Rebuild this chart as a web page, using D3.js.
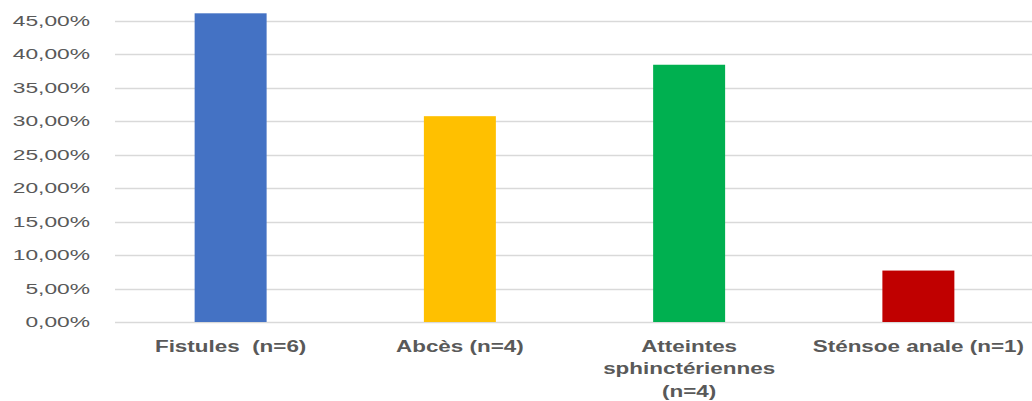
<!DOCTYPE html>
<html>
<head>
<meta charset="utf-8">
<script src="https://cdn.jsdelivr.net/npm/d3@7"></script>
<style>
  html, body { margin: 0; padding: 0; background: #fff; }
  svg { display: block; }
  svg text { white-space: pre; }
</style>
</head>
<body>
<svg id="chart" width="1032" height="401"></svg>
<script>
// Complications by type, share of patients (%)
const categories = ["Fistules  (n=6)", "Abcès (n=4)", "Atteintes sphinctériennes (n=4)", "Sténsoe anale (n=1)"];
const categoryLines = [["Fistules  (n=6)"], ["Abcès (n=4)"], ["Atteintes", "sphinctériennes", "(n=4)"], ["Sténsoe anale (n=1)"]];
const values = [46.15, 30.77, 38.46, 7.69];
const colors = ["#4472C4", "#FFC000", "#00B050", "#C00000"];
const yTicks = [0, 5, 10, 15, 20, 25, 30, 35, 40, 45];
const tickLabels = ["0,00%", "5,00%", "10,00%", "15,00%", "20,00%", "25,00%", "30,00%", "35,00%", "40,00%", "45,00%"];

const svg = d3.select("#chart");
const plotLeft = 116, plotRight = 1033, plotTop = 21, plotBottom = 322;
const textColor = "#595959";
const font = "'Liberation Sans', Arial, sans-serif";

const x = d3.scaleBand().domain(categories).range([plotLeft, plotRight]).paddingInner(0.686).paddingOuter(0.343);
const y = d3.scaleLinear().domain([0, 45]).range([plotBottom, plotTop]);

// Horizontal gridlines
svg.append("g")
  .selectAll("line")
  .data(yTicks)
  .join("line")
  .attr("x1", plotLeft - 1)
  .attr("x2", 1032)
  .attr("y1", d => Math.round(y(d)) + 0.5)
  .attr("y2", d => Math.round(y(d)) + 0.5)
  .attr("stroke", "#d9d9d9")
  .attr("stroke-width", 1.5);

// Y-axis tick labels (horizontally widened glyphs)
const tickSx = 1.52;
svg.append("g")
  .selectAll("text")
  .data(yTicks)
  .join("text")
  .attr("transform", d => `translate(90,${y(d)}) scale(${tickSx},1)`)
  .attr("text-anchor", "end")
  .attr("dominant-baseline", "central")
  .attr("font-family", font)
  .attr("font-size", 15)
  .attr("fill", textColor)
  .text((d, i) => tickLabels[i]);

// Bars
svg.append("g")
  .selectAll("rect")
  .data(categories)
  .join("rect")
  .attr("x", d => x(d))
  .attr("width", x.bandwidth())
  .attr("y", (d, i) => y(values[i]))
  .attr("height", (d, i) => y(0) - y(values[i]))
  .attr("fill", (d, i) => colors[i]);

// Category labels
const labelSx = 1.32;
const lab = svg.append("g")
  .selectAll("g")
  .data(categories)
  .join("g")
  .attr("transform", d => `translate(${x(d) + x.bandwidth() / 2},352) scale(${labelSx},1)`);
lab.each(function(d, i) {
  d3.select(this).selectAll("text")
    .data(categoryLines[i])
    .join("text")
    .attr("y", (t, j) => j * 22.5)
    .attr("text-anchor", "middle")
    .attr("font-family", font)
    .attr("font-weight", "bold")
    .attr("font-size", 17)
    .attr("fill", textColor)
    .text(t => t);
});
</script>
</body>
</html>
